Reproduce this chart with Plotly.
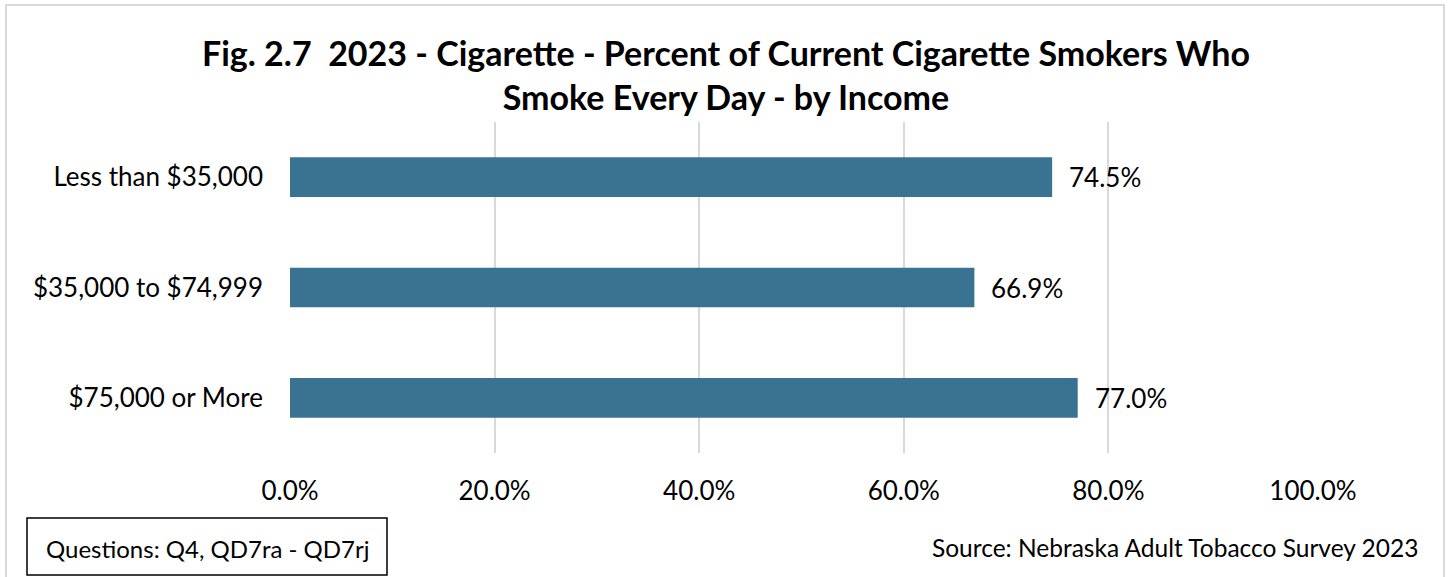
import plotly.graph_objects as go

categories = ["Less than $35,000", "$35,000 to $74,999", "$75,000 or More"]
values = [74.5, 66.9, 77.0]
tick_vals = [0, 20, 40, 60, 80, 100]
tick_text = ["0.0%", "20.0%", "40.0%", "60.0%", "80.0%", "100.0%"]

FONT = "Lato"
L, R, T, B = 290, 137, 122, 124
W, H = 1450, 577
pw, ph = W - L - R, H - T - B

def px2x(px):
    return (px - L) / pw

def px2y(py):
    return (H - B - py) / ph

fig = go.Figure()
fig.add_trace(go.Bar(
    y=categories, x=values, orientation="h",
    marker=dict(color="#3a7391", line=dict(width=0)),
    width=0.36,
    hoverinfo="skip",
))

for c, v in zip(categories, values):
    fig.add_annotation(x=v, y=c, text=f"{v:.1f}%", showarrow=False,
                       xanchor="left", xshift=15,
                       font=dict(family=FONT, size=26, color="#000000"))

fig.update_layout(
    width=W, height=H,
    margin=dict(l=L, r=R, t=T, b=B, pad=0),
    paper_bgcolor="white", plot_bgcolor="white",
    showlegend=False,
    title=dict(text="<b>Fig. 2.7  2023 - Cigarette - Percent of Current Cigarette Smokers Who<br>Smoke Every Day - by Income</b>",
               x=726 / W, xanchor="center",
               y=1 - 66 / H, yanchor="middle",
               font=dict(family=FONT, size=34, color="#000000")),
    xaxis=dict(range=[0, 100], tickvals=tick_vals, ticktext=tick_text,
               showgrid=True, gridcolor="#d9d9d9", gridwidth=2,
               zeroline=False, showline=False, ticks="",
               ticklabelstandoff=20,
               tickfont=dict(family=FONT, size=26, color="#000000"),
               fixedrange=True),
    yaxis=dict(autorange="reversed", categoryorder="array", categoryarray=categories,
               showgrid=False, zeroline=False, showline=False, ticks="",
               ticklabelstandoff=26,
               tickfont=dict(family=FONT, size=26, color="#000000"),
               fixedrange=True),
)

# outer chart border
fig.add_shape(type="rect", xref="paper", yref="paper",
              x0=px2x(6), x1=px2x(1444), y0=px2y(578), y1=px2y(5),
              line=dict(color="#d9d9d9", width=2), fillcolor="rgba(0,0,0,0)", layer="below")
# questions box
fig.add_shape(type="rect", xref="paper", yref="paper",
              x0=px2x(27), x1=px2x(387), y0=px2y(575), y1=px2y(518),
              line=dict(color="#000000", width=1.5), fillcolor="white")
fig.add_annotation(xref="paper", yref="paper", x=px2x(207), y=px2y(548),
                   text="Questions: Q4, QD7ra - QD7rj", showarrow=False,
                   xanchor="center", yanchor="middle",
                   font=dict(family=FONT, size=24, color="#000000"))
fig.add_annotation(xref="paper", yref="paper", x=px2x(1420), y=px2y(547),
                   text="Source: Nebraska Adult Tobacco Survey 2023", showarrow=False,
                   xanchor="right", yanchor="middle",
                   font=dict(family=FONT, size=24.5, color="#000000"))

fig.write_html("out.html", config={"displayModeBar": False})
